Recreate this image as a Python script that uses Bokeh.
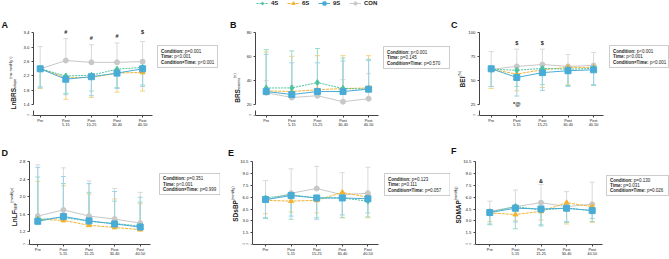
import math
from bokeh.plotting import figure
from bokeh.models import (FixedTicker, Label, BoxAnnotation, Arrow, Legend, LegendItem,
                          ColumnDataSource, Range1d)
from bokeh.layouts import column, row
from bokeh.embed import file_html
from bokeh.resources import INLINE
from bokeh.core.properties import value

# ---------------- data ----------------
times = ["Pre", "Post\n5-15", "Post\n15-25", "Post\n30-40", "Post\n40-50"]
groups = ["4S", "6S", "9S", "CON"]

# A: LnBRS slope
A_4S = [2.40, 2.20, 2.22, 2.39, 2.44]
A_6S = [2.40, 2.15, 2.16, 2.28, 2.30]
A_9S = [2.40, 2.11, 2.18, 2.28, 2.40]
A_CON = [2.40, 2.63, 2.58, 2.58, 2.60]
A_4S_err = [1.90, 1.72, 1.78, 1.88, 1.95]
A_6S_err = [1.85, 1.55, 1.60, 1.75, 1.78]
A_9S_err = [1.87, 1.68, 1.65, 1.85, 1.91]
A_CON_err = [3.02, 3.24, 3.07, 3.12, 3.16]
A_yticks = [1.4, 1.8, 2.2, 2.6, 3.0, 3.4]
A_yticklabels = ["1.4", "1.8", "2.2", "2.6", "3.0", "3.4"]
A_stats = ["p=0.001", "p<0.001", "p<0.001"]
A_symbols = [("#", 1, 3.43), ("#", 2, 3.27), ("#", 3, 3.32), ("$", 4, 3.43)]

# B: BRS events
B_4S = [34.0, 34.0, 38.5, 33.5, 33.0]
B_6S = [31.5, 31.0, 32.5, 33.5, 34.0]
B_9S = [31.0, 28.5, 31.0, 31.0, 33.0]
B_CON = [30.0, 26.0, 27.5, 22.5, 25.0]
B_4S_err = [66.0, 65.0, 67.0, 59.0, 58.0]
B_6S_err = [64.0, 60.5, 61.0, 61.0, 61.0]
B_9S_err = [62.0, 55.0, 55.0, 56.5, 57.0]
B_CON_err = [40.0, 36.0, 38.0, 41.0, 46.0]
B_yticks = [20, 40, 60, 80]
B_yticklabels = ["20", "40", "60", "80"]
B_stats = ["p<0.001", "p=0.145", "p=0.570"]
B_symbols = []

# C: BEI
C_4S = [62.0, 61.0, 63.0, 62.0, 63.0]
C_6S = [62.0, 57.0, 61.5, 64.0, 64.0]
C_9S = [62.5, 53.5, 58.5, 60.5, 61.5]
C_CON = [62.0, 65.0, 67.0, 65.0, 66.0]
C_4S_err = [44.0, 44.0, 46.0, 45.0, 45.0]
C_6S_err = [42.0, 39.5, 43.0, 46.0, 45.0]
C_9S_err = [44.0, 34.0, 40.0, 44.0, 46.0]
C_CON_err = [80.5, 83.0, 83.0, 77.5, 79.5]
C_yticks = [25, 50, 75, 100]
C_yticklabels = ["25", "50", "75", "100"]
C_stats = ["p<0.001", "p<0.001", "p<0.001"]
C_symbols = [("$", 1, 89.5), ("$", 2, 89.5), ("*@", 1, 26.0)]

# D: LnLF SBP
D_4S = [1.48, 1.53, 1.44, 1.39, 1.33]
D_6S = [1.49, 1.46, 1.35, 1.30, 1.25]
D_9S = [1.44, 1.55, 1.45, 1.38, 1.31]
D_CON = [1.56, 1.70, 1.56, 1.49, 1.40]
D_4S_err = [2.45, 2.30, 2.10, 1.90, 1.88]
D_6S_err = [2.35, 2.25, 2.06, 1.95, 1.84]
D_9S_err = [2.67, 2.46, 2.30, 2.12, 1.99]
D_CON_err = [2.73, 2.66, 2.36, 2.19, 2.10]
D_yticks = [1.2, 1.6, 2.0, 2.4, 2.8]
D_yticklabels = ["1.2", "1.6", "2.0", "2.4", "2.8"]
D_stats = ["p=0.351", "p<0.001", "p=0.999"]
D_symbols = []

# E: SDsBP
E_4S = [5.9, 6.3, 5.9, 5.9, 5.5]
E_6S = [5.6, 5.5, 5.6, 6.6, 6.0]
E_9S = [5.7, 6.2, 5.9, 5.9, 5.8]
E_CON = [5.6, 6.5, 7.1, 6.3, 6.5]
E_4S_err = [3.4, 3.2, 3.4, 3.4, 3.5]
E_6S_err = [3.9, 4.1, 4.0, 3.4, 3.4]
E_9S_err = [3.3, 3.6, 3.2, 3.75, 4.0]
E_CON_err = [8.1, 9.6, 9.9, 9.1, 9.8]
E_yticks = [0.0, 1.5, 3.0, 4.5, 6.0, 7.5, 9.0, 10.5]
E_yticklabels = ["0.0", "1.5", "3.0", "4.5", "6.0", "7.5", "9.0", "10.5"]
E_stats = ["p=0.123", "p=0.111", "p=0.057"]
E_symbols = []

# F: SDMAP
F_4S = [4.1, 4.8, 4.4, 4.6, 4.3]
F_6S = [4.0, 3.8, 4.2, 5.3, 4.8]
F_9S = [4.05, 4.6, 4.5, 4.6, 4.3]
F_CON = [4.2, 4.8, 5.3, 4.8, 5.1]
F_4S_err = [2.5, 2.0, 2.5, 2.8, 2.9]
F_6S_err = [2.9, 3.0, 3.1, 2.6, 2.8]
F_9S_err = [2.6, 2.85, 2.35, 2.9, 3.3]
F_CON_err = [5.5, 6.9, 7.6, 6.7, 7.9]
F_yticks = [0.0, 1.5, 3.0, 4.5, 6.0, 7.5, 9.0, 10.5]
F_yticklabels = ["0.0", "1.5", "3.0", "4.5", "6.0", "7.5", "9.0", "10.5"]
F_stats = ["p=0.130", "p=0.031", "p=0.026"]
F_symbols = [("&", 2, 8.0)]

stat_names = ["Condition:", "Time:", "Condition\u00d7Time:"]

titles = {
    "A": [("LnBRS", "main"), ("slope", "sub"), (" (ms\u00b7mmHg\u207b\u00b9)", "sup")],
    "B": [("BRS", "main"), ("events", "sub"), (" (n)", "sup")],
    "C": [("BEI", "main"), (" (%)", "sup")],
    "D": [("LnLF", "main"), ("SBP", "sub"), (" (mmHg\u00b2)", "sup")],
    "E": [("SDsBP", "main"), (" (mmHg)", "sup")],
    "F": [("SDMAP", "main"), (" (mmHg)", "sup")],
}

panels = {
    "A": dict(m=[A_4S, A_6S, A_9S, A_CON], e=[A_4S_err, A_6S_err, A_9S_err, A_CON_err],
              yt=A_yticks, yl=A_yticklabels, st=A_stats, sy=A_symbols, brk=True),
    "B": dict(m=[B_4S, B_6S, B_9S, B_CON], e=[B_4S_err, B_6S_err, B_9S_err, B_CON_err],
              yt=B_yticks, yl=B_yticklabels, st=B_stats, sy=B_symbols, brk=True),
    "C": dict(m=[C_4S, C_6S, C_9S, C_CON], e=[C_4S_err, C_6S_err, C_9S_err, C_CON_err],
              yt=C_yticks, yl=C_yticklabels, st=C_stats, sy=C_symbols, brk=True),
    "D": dict(m=[D_4S, D_6S, D_9S, D_CON], e=[D_4S_err, D_6S_err, D_9S_err, D_CON_err],
              yt=D_yticks, yl=D_yticklabels, st=D_stats, sy=D_symbols, brk=True),
    "E": dict(m=[E_4S, E_6S, E_9S, E_CON], e=[E_4S_err, E_6S_err, E_9S_err, E_CON_err],
              yt=E_yticks, yl=E_yticklabels, st=E_stats, sy=E_symbols, brk=False),
    "F": dict(m=[F_4S, F_6S, F_9S, F_CON], e=[F_4S_err, F_6S_err, F_9S_err, F_CON_err],
              yt=F_yticks, yl=F_yticklabels, st=F_stats, sy=F_symbols, brk=False),
}

# ---------------- style / layout ----------------
FONT = "Liberation Sans"
AX = "#444444"
TXT = "#222222"
LINE_COL = {"4S": "#4cc3a0", "6S": "#f2b230", "9S": "#49acd6", "CON": "#c8c8c8"}
ERR_COL = {"4S": "#9bdcc6", "6S": "#f6d282", "9S": "#9dd2ea", "CON": "#d9d9d9"}
MARKER = {"4S": "diamond", "6S": "triangle", "9S": "square", "CON": "circle"}
MSIZE = {"4S": 6, "6S": 5, "9S": 6, "CON": 5}
DASH = {"4S": "2 1", "6S": "3 1", "9S": "solid", "CON": "solid"}
DRAW_ORDER = [3, 1, 0, 2]
PX = 25.6  # px per category step

# rows: figure height, bottom border, absolute y of the x axis
ROWS = {0: dict(h=130, bot=13, fb=117), 1: dict(h=129, bot=12, fb=247)}
# absolute pixel positions on the page
LAY = {
    "A": dict(r=0, x0=0, w=220, pre=39.7, axis=33, box=(157, 217, 47, 69), tc=(11, 33), let=(1, 26), lo=11, hi=84),
    "B": dict(r=0, x0=220, w=230, pre=265.7, axis=255, box=(383, 449, 48, 70), tc=(235, 28), let=(229.5, 26), lo=11, hi=84),
    "C": dict(r=0, x0=450, w=219, pre=490.7, axis=479, box=(609, 668, 47, 69), tc=(460, 37), let=(450.5, 26), lo=11, hi=84),
    "D": dict(r=1, x0=0, w=220, pre=37.3, axis=29, box=(159, 219.5, 176, 197), tc=(12, 38), let=(1, 155), lo=13, hi=85),
    "E": dict(r=1, x0=220, w=230, pre=265, axis=252, box=(384, 449.5, 176, 198), tc=(233, 41), let=(227.5, 155), lo=0, hi=85),
    "F": dict(r=1, x0=450, w=219, pre=489.3, axis=475, box=(606, 668, 178, 198), tc=(456, 40), let=(450.5, 153), lo=0, hi=85),
}

REG = {' ': 278, '(': 333, ')': 333, '.': 278, ':': 278, '=': 584, '<': 584, '%': 889,
       '\u00b7': 278, '\u207b': 333, '\u00b9': 333, '\u00b2': 333, '\u00d7': 584,
       'a': 556, 'b': 556, 'c': 500, 'd': 556, 'e': 556, 'f': 278, 'g': 556, 'h': 556,
       'i': 222, 'l': 222, 'm': 833, 'n': 556, 'o': 556, 'p': 556, 'r': 333, 's': 500,
       't': 278, 'v': 500, 'H': 722, 'B': 667, 'P': 667, 'S': 667}
BOLD = {' ': 278, ':': 333, '\u00d7': 584, 'C': 722, 'T': 611, 'o': 611, 'n': 611,
        'd': 611, 'i': 278, 't': 333, 'm': 889, 'e': 556, 'L': 611, 'B': 722, 'R': 722,
        'S': 667, 'F': 611, 'E': 667, 'I': 278, 'D': 722, 'M': 833, 'A': 722, 'P': 667,
        's': 556}


def text_w(s, size, bold=False):
    t = BOLD if bold else REG
    return sum(t.get(c, 556) for c in s) * size / 1000.0


def slabel(p, x, y, text, size, bold=False, align="left", baseline="middle", angle=0.0,
           color=TXT):
    p.add_layout(Label(x=x, y=y, x_units="screen", y_units="screen", text=text, angle=angle,
                       text_align=align, text_baseline=baseline, text_font=FONT,
                       text_font_size=f"{size}px",
                       text_font_style="bold" if bold else "normal",
                       text_color=color))


def seg(p, xa, ya, xb, yb):
    p.add_layout(Arrow(x_start=xa, y_start=ya, x_end=xb, y_end=yb, start_units="screen",
                       end_units="screen", start=None, end=None, line_color=AX, line_width=1))


def make_panel(key):
    d = panels[key]
    L = LAY[key]
    R = ROWS[L["r"]]
    fb = R["fb"]
    frame_h = R["h"] - R["bot"]
    X0 = L["x0"]
    x0 = -(L["pre"] - X0) / PX
    x1 = x0 + L["w"] / PX
    axis_loc = (L["axis"] - L["pre"]) / PX
    lo_t, hi_t = d["yt"][0], d["yt"][-1]
    scale = (hi_t - lo_t) / (L["hi"] - L["lo"])
    y0 = lo_t - L["lo"] * scale
    y1 = y0 + frame_h * scale

    p = figure(width=L["w"], height=R["h"], x_range=Range1d(x0, x1), y_range=Range1d(y0, y1),
               output_backend="svg", toolbar_location=None,
               min_border_left=0, min_border_right=0,
               min_border_top=0, min_border_bottom=R["bot"])
    p.outline_line_color = None
    p.xgrid.visible = False
    p.ygrid.visible = False
    p.background_fill_color = "white"
    p.border_fill_color = "white"

    ya = p.yaxis[0]
    ya.ticker = FixedTicker(ticks=d["yt"])
    ya.major_label_overrides = {t: l for t, l in zip(d["yt"], d["yl"])}
    ya.bounds = (lo_t, hi_t)
    ya.fixed_location = axis_loc
    xa = p.xaxis[0]
    xs = list(range(len(times)))
    xa.ticker = FixedTicker(ticks=xs)
    xa.major_label_overrides = {i: t for i, t in zip(xs, times)}
    xa.bounds = (axis_loc, 4.4)
    for ax, fs, so in ((ya, "4.3px", 2), (xa, "3.8px", 1)):
        ax.axis_line_color = AX
        ax.axis_line_width = 1
        ax.major_tick_line_color = AX
        ax.major_tick_out = 2
        ax.major_tick_in = 0
        ax.minor_tick_out = 0
        ax.minor_tick_in = 0
        ax.major_label_text_font = FONT
        ax.major_label_text_font_size = fs
        ax.major_label_text_color = TXT
        ax.major_label_standoff = so
        ax.axis_label = None

    ax_sx = L["axis"] - X0
    if d["brk"]:
        seg(p, ax_sx, 0, ax_sx, 5)
        seg(p, ax_sx - 2, 0, ax_sx, 0)
        slabel(p, ax_sx - 4, 0, "0", 4.3, align="right")

    rend = {}
    for gi in DRAW_ORDER:
        g = groups[gi]
        src = ColumnDataSource(dict(x=xs, m=d["m"][gi], e=d["e"][gi]))
        p.segment(x0="x", y0="m", x1="x", y1="e", source=src, line_color=ERR_COL[g], line_width=1)
        p.scatter(x="x", y="e", source=src, marker="dash", size=5, line_color=ERR_COL[g], line_width=1)
    for gi in DRAW_ORDER:
        g = groups[gi]
        src = ColumnDataSource(dict(x=xs, m=d["m"][gi]))
        rend[g] = [p.line(x="x", y="m", source=src, line_color=LINE_COL[g], line_width=1,
                          line_dash=DASH[g])]
    for gi in DRAW_ORDER:
        g = groups[gi]
        src = ColumnDataSource(dict(x=xs, m=d["m"][gi]))
        rend[g].append(p.scatter(x="x", y="m", source=src, marker=MARKER[g], size=MSIZE[g],
                                 fill_color=LINE_COL[g], line_color=LINE_COL[g]))

    if d["sy"]:
        ssrc = ColumnDataSource(dict(t=[s[0] for s in d["sy"]], x=[s[1] for s in d["sy"]],
                                     y=[s[2] for s in d["sy"]]))
        p.text(x="x", y="y", text="t", source=ssrc, text_font=value(FONT),
               text_font_size=value("5.5px"), text_font_style="bold", text_color=TXT,
               text_align="center", text_baseline="middle")

    # statistics box
    bl, br, bt, bb = L["box"]
    p.add_layout(BoxAnnotation(left=bl - X0, right=br - X0, bottom=fb - bb, top=fb - bt,
                               left_units="screen", right_units="screen",
                               bottom_units="screen", top_units="screen",
                               fill_alpha=0, line_color="#555555", line_width=1))
    fs = 4.5
    step = (bb - bt) / 4.0
    for i, (nm, pv) in enumerate(zip(stat_names, d["st"])):
        yy = fb - (bt + step * (i + 1))
        tx = bl - X0 + 3.5
        slabel(p, tx, yy, nm, fs, bold=True)
        slabel(p, tx + text_w(nm + " ", fs, True), yy, pv, fs)

    # rotated y axis title with mixed sizes
    parts = titles[key]
    MAIN, SMALL = 6.5, 3.8
    tot = sum(text_w(t, MAIN if k == "main" else SMALL, k == "main") for t, k in parts)
    xc, yc = L["tc"]
    xb = xc - X0 + 2.3
    ypos = yc - tot / 2
    for t, k in parts:
        sz = MAIN if k == "main" else SMALL
        dx = {"main": 0, "sub": 1.3, "sup": -2.6}[k]
        slabel(p, xb + dx, ypos, t, sz, bold=(k == "main"), baseline="alphabetic",
               angle=math.pi / 2)
        ypos += text_w(t, sz, k == "main")

    lx, ly = L["let"]
    slabel(p, lx - X0, fb - ly, key, 9, bold=True, color="#111111")
    return p, rend


figs = {}
rends = {}
for k in "ABCDEF":
    figs[k], rends[k] = make_panel(k)

# legend at the top, inside panel B's frame
items = [LegendItem(label=g, renderers=rends["B"][g]) for g in groups]
legend = Legend(items=items, orientation="horizontal", location=(36, 108),
                glyph_width=12, glyph_height=8, label_height=8, label_width=16,
                label_standoff=3, spacing=0, padding=0, margin=0,
                border_line_alpha=0, background_fill_alpha=0,
                label_text_font=FONT, label_text_font_size="6px",
                label_text_font_style="bold", label_text_color=TXT)
figs["B"].add_layout(legend)

top = row(figs["A"], figs["B"], figs["C"])
bottom = row(figs["D"], figs["E"], figs["F"])
layout = column(top, bottom)

open("out.html", "w").write(file_html(layout, INLINE))
